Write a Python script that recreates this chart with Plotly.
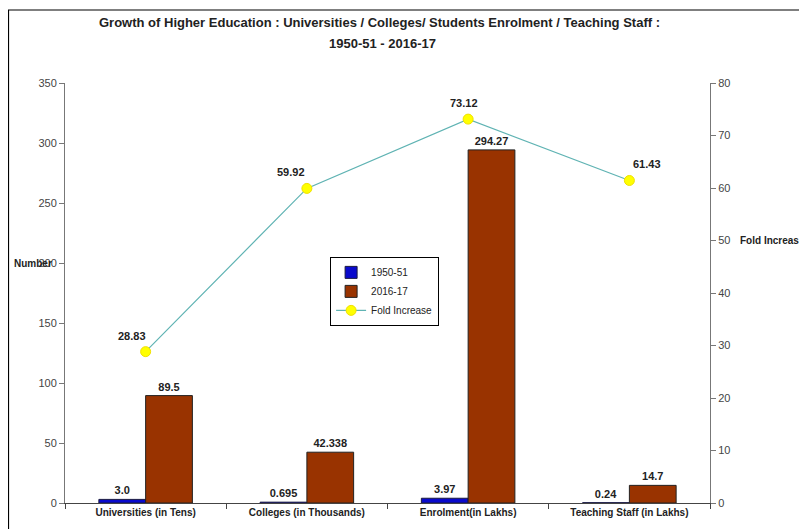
import plotly.graph_objects as go

categories = ["Universities (in Tens)", "Colleges (in Thousands)", "Enrolment(in Lakhs)", "Teaching Staff (in Lakhs)"]
y1950 = [3.0, 0.695, 3.97, 0.24]
y2016 = [89.5, 42.338, 294.27, 14.7]
fold = [28.83, 59.92, 73.12, 61.43]
fold_xshift = [-14, -16, -4, 18]
left_ticks = [0, 50, 100, 150, 200, 250, 300, 350]
right_ticks = [0, 10, 20, 30, 40, 50, 60, 70, 80]
title_lines = ["Growth of Higher Education : Universities / Colleges/ Students Enrolment / Teaching Staff :",
               "1950-51 - 2016-17"]

FONT = "Liberation Sans, Arial, sans-serif"

fig = go.Figure()
fig.add_trace(go.Bar(
    x=categories, y=y1950, name="1950-51",
    marker=dict(color="#0a0acc", line=dict(color="#1a1a40", width=1)),
    text=[str(v) for v in y1950], texttemplate="<b>%{text}</b>", textposition="outside",
    textfont=dict(family=FONT, size=11, color="#222"),
    cliponaxis=False,
))
fig.add_trace(go.Bar(
    x=categories, y=y2016, name="2016-17",
    marker=dict(color="#993300", line=dict(color="#222", width=1)),
    text=[str(v) for v in y2016], texttemplate="<b>%{text}</b>", textposition="outside",
    textfont=dict(family=FONT, size=11, color="#222"),
    cliponaxis=False,
))
fig.add_trace(go.Scatter(
    x=categories, y=fold, name="Fold Increase", yaxis="y2",
    mode="lines+markers",
    line=dict(color="#5fb3b3", width=1.2),
    marker=dict(color="#ffff00", size=10, line=dict(color="#f0e000", width=1)),
    cliponaxis=False,
))

for c, v, dx in zip(categories, fold, fold_xshift):
    fig.add_annotation(x=c, y=v, yref="y2", text=f"<b>{v}</b>", showarrow=False,
                       xshift=dx, yshift=16,
                       font=dict(family=FONT, size=11, color="#222"))

# title, two lines
fig.add_annotation(xref="paper", yref="paper", x=0.488, y=1.145, text=f"<b>{title_lines[0]}</b>",
                   showarrow=False, xanchor="center", yanchor="middle",
                   font=dict(family=FONT, size=13, color="#222"))
fig.add_annotation(xref="paper", yref="paper", x=0.493, y=1.093, text=f"<b>{title_lines[1]}</b>",
                   showarrow=False, xanchor="center", yanchor="middle",
                   font=dict(family=FONT, size=13, color="#222"))

fig.add_annotation(xref="paper", yref="paper", x=-0.082, y=200/350, text="<b>Number</b>",
                   showarrow=False, xanchor="left",
                   font=dict(family=FONT, size=10, color="#222"))
fig.add_annotation(xref="paper", yref="paper", x=1.043, y=50/80, text="<b>Fold Increase</b>",
                   showarrow=False, xanchor="left",
                   font=dict(family=FONT, size=10, color="#222"))

fig.add_shape(type="rect", xref="paper", yref="paper",
              x0=-0.0876, x1=1.3, y0=-0.3, y1=1.1738,
              line=dict(color="#000", width=1.2), layer="below")

fig.update_layout(
    width=807, height=529,
    margin=dict(l=57, r=105, t=75, b=34),
    paper_bgcolor="white", plot_bgcolor="white",
    barmode="group", bargap=0.42, bargroupgap=0,
    font=dict(family=FONT, color="#333"),
    showlegend=True,
    legend=dict(x=0.411, y=0.586, xanchor="left", yanchor="top",
                bgcolor="white", bordercolor="#000", borderwidth=1,
                font=dict(family=FONT, size=10, color="#222"),
                tracegroupgap=0),
    xaxis=dict(
        tickvals=categories, ticktext=[f"<b>{c}</b>" for c in categories],
        showline=True, linecolor="#444", linewidth=1,
        ticks="outside", tickson="boundaries", ticklen=5, tickcolor="#444",
        tickfont=dict(family=FONT, size=10, color="#222"),
        showgrid=False,
    ),
    yaxis=dict(
        range=[0, 350], tickvals=left_ticks, showline=True, linecolor="#777", linewidth=1,
        ticks="outside", ticklen=5, tickcolor="#777", showgrid=False, zeroline=False,
        tickfont=dict(family=FONT, size=11, color="#444"),
    ),
    yaxis2=dict(
        range=[0, 80], tickvals=right_ticks, overlaying="y", side="right",
        showline=True, linecolor="#777", linewidth=1,
        ticks="outside", ticklen=5, tickcolor="#777", showgrid=False, zeroline=False,
        tickfont=dict(family=FONT, size=11, color="#444"),
    ),
)

fig.write_html("out.html")
